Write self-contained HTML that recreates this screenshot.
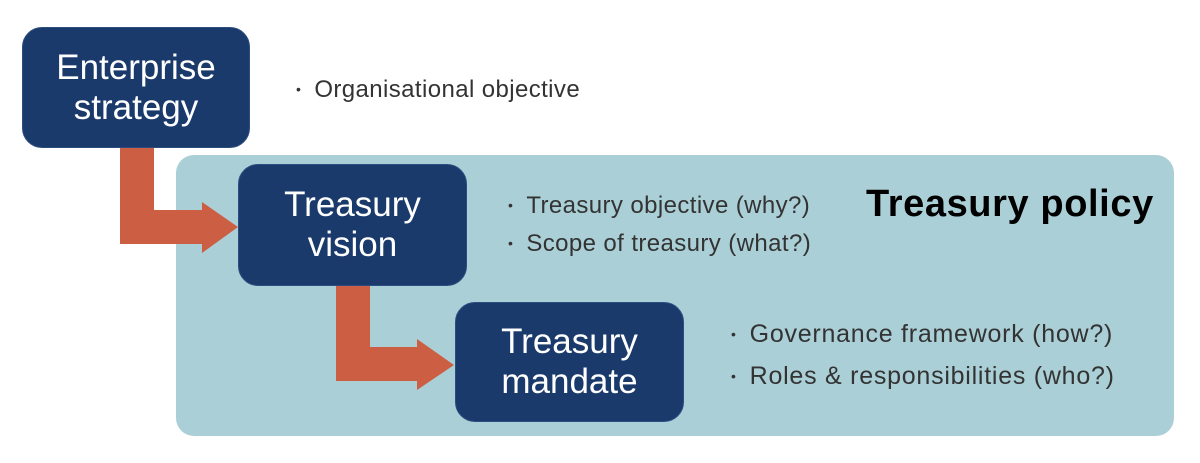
<!DOCTYPE html>
<html><head><style>
body{margin:0;width:1200px;height:463px;background:#fff;position:relative;overflow:hidden;font-family:"Liberation Sans",sans-serif}
.bg{position:absolute;left:176px;top:155px;width:998px;height:281px;background:#aacfd6;border-radius:18px}
.box{position:absolute;background:#1a3a6c;border-radius:20px;color:#fff;font-size:35px;line-height:40px;text-align:center;display:flex;align-items:center;justify-content:center;border:1px solid #2b4d80;box-sizing:border-box}
.t{position:absolute;color:#333;font-size:24px;letter-spacing:0.4px;white-space:nowrap}
.t span{font-size:14px;margin-right:13px;position:relative;top:-3px}
</style></head><body>
<div class="bg"></div>
<svg width="1200" height="463" style="position:absolute;left:0;top:0">
<polygon fill="#cc5f43" points="120,148 154,148 154,210 202,210 202,202 238,227 202,253 202,244 120,244"/>
<polygon fill="#cc5f43" points="336,286 370,286 370,347 417,347 417,339 454,365 417,390 417,381 336,381"/>
</svg>
<div class="box" style="left:22px;top:27px;width:228px;height:121px">Enterprise<br>strategy</div>
<div class="box" style="left:238px;top:164px;width:229px;height:122px">Treasury<br>vision</div>
<div class="box" style="left:455px;top:302px;width:229px;height:120px">Treasury<br>mandate</div>
<div class="t" style="left:296px;top:72px;line-height:36px"><span>•</span>Organisational objective</div>
<div class="t" style="left:508px;top:188px;line-height:35px"><span>•</span>Treasury objective (why?)<br><span>•</span>Scope of treasury (what?)</div>
<div class="t" style="left:731px;top:315px;line-height:39px;font-size:25px;letter-spacing:0.75px"><span>•</span>Governance framework (how?)<br><span>•</span>Roles &amp; responsibilities (who?)</div>
<div style="position:absolute;left:866px;top:183px;font-size:38px;letter-spacing:0.6px;font-weight:bold;color:#000">Treasury policy</div>
</body></html>
